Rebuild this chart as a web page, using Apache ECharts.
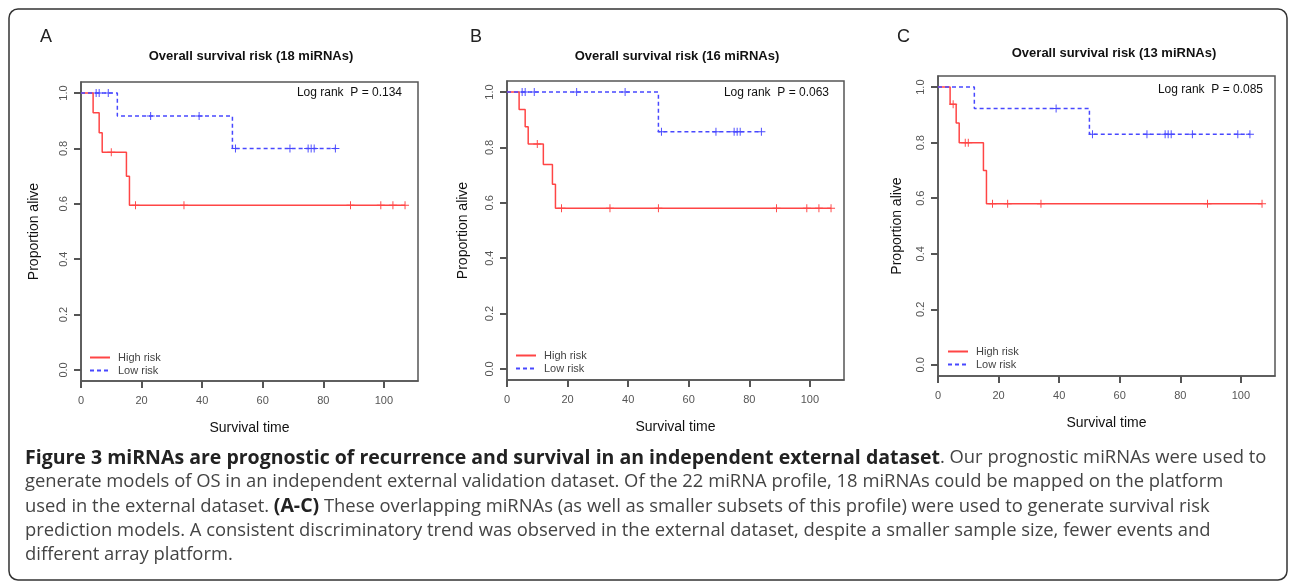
<!DOCTYPE html>
<html>
<head>
<meta charset="utf-8">
<script src="https://cdn.jsdelivr.net/npm/echarts@6/dist/echarts.min.js"></script>
<style>
  html, body { margin: 0; padding: 0; background: #fff; }
  #chart { width: 1295px; height: 583px; }
</style>
</head>
<body>
<div id="chart"></div>
<script>
// ---------- Data ----------
const xTicks = [0, 20, 40, 60, 80, 100];
const yTicks = [0, 0.2, 0.4, 0.6, 0.8, 1.0];

const panelLetters = ['A', 'B', 'C'];
const panelTitles = ['Overall survival risk (18 miRNAs)', 'Overall survival risk (16 miRNAs)', 'Overall survival risk (13 miRNAs)'];
const logRankTexts = ['Log rank  P = 0.134', 'Log rank  P = 0.063', 'Log rank  P = 0.085'];
const seriesNames = ['High risk', 'Low risk'];

// Panel A
const aHighTimes = [0, 4, 6, 7, 15, 16, 107];
const aHighSurv  = [1, 0.929, 0.857, 0.786, 0.70, 0.595, 0.595];
const aHighCensor = [10, 18, 34, 89, 99, 103, 107];
const aLowTimes = [0, 12, 50, 84];
const aLowSurv  = [1, 0.917, 0.80, 0.80];
const aLowCensor = [5, 6, 9, 23, 39, 51, 69, 75, 76, 77, 84];

// Panel B
const bHighTimes = [0, 4, 6, 7, 12, 15, 16, 107];
const bHighSurv  = [1, 0.9375, 0.875, 0.8125, 0.738, 0.667, 0.58, 0.58];
const bHighCensor = [10, 18, 34, 50, 89, 99, 103, 107];
const bLowTimes = [0, 50, 84];
const bLowSurv  = [1, 0.857, 0.857];
const bLowCensor = [5, 6, 9, 23, 39, 51, 69, 75, 76, 77, 84];

// Panel C
const cHighTimes = [0, 4, 6, 7, 15, 16, 107];
const cHighSurv  = [1, 0.938, 0.871, 0.80, 0.70, 0.58, 0.58];
const cHighCensor = [5, 9, 10, 18, 23, 34, 89, 107];
const cLowTimes = [0, 12, 50, 103];
const cLowSurv  = [1, 0.923, 0.83, 0.83];
const cLowCensor = [39, 51, 69, 75, 76, 77, 84, 99, 103];

const captionLines = [
  ['b', 'Figure 3 miRNAs are prognostic of recurrence and survival in an independent external dataset', 'r', '. Our prognostic miRNAs were used to'],
  ['r', 'generate models of OS in an independent external validation dataset. Of the 22 miRNA profile, 18 miRNAs could be mapped on the platform'],
  ['r', 'used in the external dataset. ', 'b', '(A-C)', 'r', ' These overlapping miRNAs (as well as smaller subsets of this profile) were used to generate survival risk'],
  ['r', 'prediction models. A consistent discriminatory trend was observed in the external dataset, despite a smaller sample size, fewer events and'],
  ['r', 'different array platform.']
];

// ---------- Layout / style ----------
const panels = [
  { grid: { left: 81, top: 82, width: 337, height: 299 }, yGap: 40, letter: [40, 28], title: [251, 56], logRank: [402, 93], legend: [89, 352],
    high: [aHighTimes, aHighSurv, aHighCensor], low: [aLowTimes, aLowSurv, aLowCensor] },
  { grid: { left: 507, top: 81, width: 337, height: 299 }, yGap: 37, letter: [470, 28], title: [677, 56], logRank: [829, 93], legend: [515, 350],
    high: [bHighTimes, bHighSurv, bHighCensor], low: [bLowTimes, bLowSurv, bLowCensor] },
  { grid: { left: 938, top: 76, width: 337, height: 300 }, yGap: 34, letter: [897, 28], title: [1114, 53], logRank: [1263, 90], legend: [947, 346],
    high: [cHighTimes, cHighSurv, cHighCensor], low: [cLowTimes, cLowSurv, cLowCensor] }
];

const RED = '#ff4545';
const BLUE = '#4848ff';
const AXIS = '#555';
const FONT = 'Liberation Sans, Arial, sans-serif';
const PLUS = 'path://M-0.12,-1H0.12V-0.12H1V0.12H0.12V1H-0.12V0.12H-1V-0.12H-0.12Z';

function stepPairs(times, surv) { return times.map((t, i) => [t, surv[i]]); }
function survAt(times, surv, t) {
  let s = surv[0];
  for (let i = 0; i < times.length; i++) { if (times[i] <= t) s = surv[i]; }
  return s;
}
function censorPairs(times, surv, cens) { return cens.map(t => [t, survAt(times, surv, t)]); }

const grids = [], xAxes = [], yAxes = [], series = [], legends = [], graphics = [];

panels.forEach((p, i) => {
  grids.push(Object.assign({ show: true, borderColor: AXIS, borderWidth: 1.5, backgroundColor: 'transparent', containLabel: false }, p.grid));
  xAxes.push({
    type: 'value', gridIndex: i, min: 0, max: 107 * 1.04, position: 'bottom',
    axisLine: { show: true, onZero: false, lineStyle: { color: AXIS, width: 1.5 } },
    axisTick: { show: true, length: 7, customValues: xTicks, lineStyle: { color: AXIS, width: 2 } },
    axisLabel: { customValues: xTicks, margin: 14, color: '#555', fontSize: 11, fontFamily: FONT },
    splitLine: { show: false },
    name: 'Survival time', nameLocation: 'middle', nameGap: 40,
    nameTextStyle: { fontSize: 14, color: '#111', fontFamily: FONT }
  });
  yAxes.push({
    type: 'value', gridIndex: i, min: -0.04, max: 1.04, position: 'left',
    axisLine: { show: true, onZero: false, lineStyle: { color: AXIS, width: 1.5 } },
    axisTick: { show: true, length: 7, customValues: yTicks, lineStyle: { color: AXIS, width: 2 } },
    axisLabel: { customValues: yTicks, rotate: 90, margin: 12, color: '#555', fontSize: 11, fontFamily: FONT,
      formatter: v => v.toFixed(1) },
    splitLine: { show: false },
    name: 'Proportion alive', nameLocation: 'middle', nameGap: p.yGap, nameRotate: 90,
    nameTextStyle: { fontSize: 14, color: '#111', fontFamily: FONT }
  });

  const [ht, hs, hc] = p.high;
  const [lt, ls, lc] = p.low;
  series.push({
    name: seriesNames[0], type: 'line', step: 'end', xAxisIndex: i, yAxisIndex: i,
    data: stepPairs(ht, hs), symbol: 'none', silent: true,
    lineStyle: { color: RED, width: 1.5 }, itemStyle: { color: RED }
  });
  series.push({
    name: seriesNames[0] + ' censored', type: 'scatter', xAxisIndex: i, yAxisIndex: i,
    data: censorPairs(ht, hs, hc), symbol: PLUS, symbolSize: 8, silent: true,
    itemStyle: { color: RED, opacity: 1 }
  });
  series.push({
    name: seriesNames[1], type: 'line', step: 'end', xAxisIndex: i, yAxisIndex: i,
    data: stepPairs(lt, ls), symbol: 'none', silent: true,
    lineStyle: { color: BLUE, width: 1.5, type: [4, 3] }, itemStyle: { color: BLUE }
  });
  series.push({
    name: seriesNames[1] + ' censored', type: 'scatter', xAxisIndex: i, yAxisIndex: i,
    data: censorPairs(lt, ls, lc), symbol: PLUS, symbolSize: 8, silent: true,
    itemStyle: { color: BLUE, opacity: 1 }
  });

  legends.push({
    data: seriesNames, orient: 'vertical', left: p.legend[0], top: p.legend[1],
    padding: 0, itemGap: 2, itemWidth: 20, itemHeight: 10, selectedMode: false,
    itemStyle: { color: 'transparent', borderWidth: 0, opacity: 0 },
    textStyle: { fontSize: 11, lineHeight: 11, color: '#444', fontFamily: FONT, padding: [0, 0, 0, 3] }
  });

  graphics.push({ type: 'text', left: p.letter[0], top: p.letter[1], silent: true,
    style: { text: panelLetters[i], font: '18px ' + FONT, fill: '#222' } });
  graphics.push({ type: 'text', x: p.title[0], y: p.title[1], silent: true,
    style: { text: panelTitles[i], font: 'bold 13px ' + FONT, fill: '#111', align: 'center', verticalAlign: 'middle' } });
  graphics.push({ type: 'text', x: p.logRank[0], y: p.logRank[1], silent: true,
    style: { text: logRankTexts[i], font: '12px ' + FONT, fill: '#111', align: 'right', verticalAlign: 'middle' } });
});

// outer rounded frame
graphics.push({ type: 'rect', silent: true, shape: { x: 9, y: 9, width: 1278, height: 571, r: 9 },
  style: { fill: 'none', stroke: '#333', lineWidth: 1.5 } });

// caption
captionLines.forEach((parts, k) => {
  let txt = '';
  for (let j = 0; j < parts.length; j += 2) {
    txt += '{' + parts[j] + '|' + parts[j + 1] + '}';
  }
  graphics.push({ type: 'text', x: 25, y: 458 + k * 24.2, silent: true,
    style: { text: txt, verticalAlign: 'middle',
      rich: {
        b: { fontFamily: 'Open Sans', fontSize: 19.5, fontWeight: 'bold', fill: '#222' },
        r: { fontFamily: 'Open Sans', fontSize: 18.4, fill: '#444' }
      } } });
});

const chart = echarts.init(document.getElementById('chart'));
chart.setOption({
  backgroundColor: '#fff',
  animation: false,
  grid: grids, xAxis: xAxes, yAxis: yAxes, series: series, legend: legends,
  graphic: graphics
});
</script>
</body>
</html>
